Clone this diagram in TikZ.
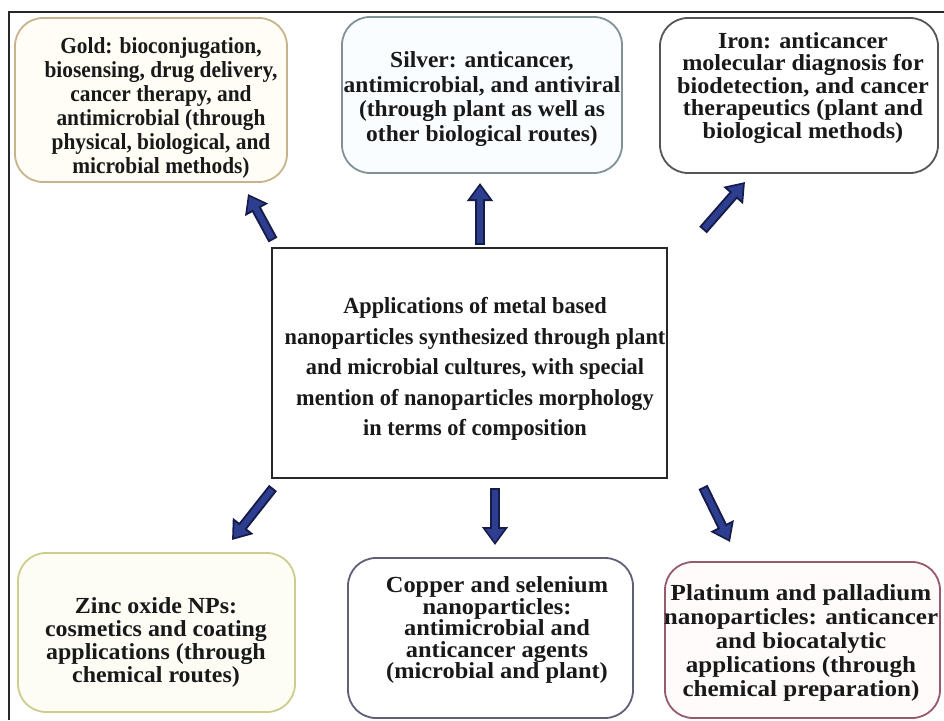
\documentclass[tikz,border=0pt]{standalone}
\usepackage{fontspec}
\setmainfont{Liberation Serif}
\newfontfamily\fgold[FakeStretch=0.93]{Liberation Serif}
\newfontfamily\fsilver[FakeStretch=1.02]{Liberation Serif}
\newfontfamily\firon[FakeStretch=1.05]{Liberation Serif}
\newfontfamily\fcent[FakeStretch=0.97]{Liberation Serif}
\newfontfamily\fzinc[FakeStretch=1.04]{Liberation Serif}
\newfontfamily\fcopper[FakeStretch=1.06]{Liberation Serif}
\newfontfamily\fplat[FakeStretch=1.09]{Liberation Serif}
\usetikzlibrary{arrows.meta}
\definecolor{navyc}{RGB}{45,62,145}
\definecolor{navyd}{RGB}{22,28,72}
\definecolor{goldc}{RGB}{200,180,140}
\definecolor{silverc}{RGB}{130,145,150}
\definecolor{ironc}{RGB}{85,85,85}
\definecolor{zincc}{RGB}{205,205,140}
\definecolor{copperc}{RGB}{95,95,120}
\definecolor{platc}{RGB}{150,90,110}
\definecolor{framec}{RGB}{40,40,40}
\tikzset{
  rbox/.style={draw, line width=1.8pt, rounded corners=28pt, inner sep=0pt},
  txt/.style={align=center, inner sep=0pt, text=black!90},
  arrowout/.style={line width=10pt, draw=navyd, -{Triangle[length=18pt,width=25pt]}},
  arrowin/.style={line width=6pt, draw=navyc, shorten >=3pt, shorten <=2pt, -{Triangle[length=13pt,width=18pt]}},
}
\begin{document}
\begin{tikzpicture}[x=1pt,y=-1pt]
\useasboundingbox (0,0) rectangle (944,720);
% outer frame (top and left edges visible)
\coordinate (fr1) at (944,12);
\coordinate (fr2) at (9,12);
\coordinate (fr3) at (9,720);
\draw[framec, line width=1.5pt] (fr1) -- (fr2) -- (fr3);

% boxes
\node[rbox, draw=goldc, fill={rgb,255:red,255;green,253;blue,245}, minimum width=272pt, minimum height=164pt] (gold) at (151,100) {};
\node[rbox, draw=silverc, fill={rgb,255:red,250;green,253;blue,255}, minimum width=280pt, minimum height=156pt] (silver) at (482,95) {};
\node[rbox, draw=ironc, fill=white, minimum width=278pt, minimum height=155pt] (iron) at (799,95.5) {};
\node[draw=framec, line width=2.4pt, fill=white, minimum width=395pt, minimum height=230pt, inner sep=0pt] (center) at (469.5,363) {};
\node[rbox, draw=zincc, fill={rgb,255:red,253;green,253;blue,246}, minimum width=277pt, minimum height=159pt] (zinc) at (156.5,632.5) {};
\node[rbox, draw=copperc, fill=white, minimum width=285pt, minimum height=160pt] (copper) at (490.5,638) {};
\node[rbox, draw=platc, fill={rgb,255:red,255;green,251;blue,251}, minimum width=275pt, minimum height=156pt] (plat) at (802.5,640) {};

% texts
\node[txt, font=\fgold\bfseries\fontsize{23}{24}\selectfont] (goldt) at (161,108)
 {Gold: bioconjugation,\\biosensing, drug delivery,\\cancer therapy, and\\antimicrobial (through\\physical, biological, and\\microbial methods)};
\node[txt, font=\fsilver\bfseries\fontsize{23}{24.5}\selectfont] (silvert) at (482,99)
 {Silver: anticancer,\\antimicrobial, and antiviral\\(through plant as well as\\other biological routes)};
\node[txt, font=\firon\bfseries\fontsize{23}{22.5}\selectfont] (iront) at (803,88)
 {Iron: anticancer\\molecular diagnosis for\\biodetection, and cancer\\therapeutics (plant and\\biological methods)};
\node[txt, font=\fcent\bfseries\fontsize{23}{30.5}\selectfont] (centert) at (475,369)
 {Applications of metal based\\nanoparticles synthesized through plant\\and microbial cultures, with special\\mention of nanoparticles morphology\\in terms of composition};
\node[txt, font=\fzinc\bfseries\fontsize{23}{23}\selectfont] (zinct) at (156,642)
 {Zinc oxide NPs:\\cosmetics and coating\\applications (through\\chemical routes)};
\node[txt, font=\fcopper\bfseries\fontsize{23}{21.5}\selectfont] (coppert) at (497,630)
 {Copper and selenium\\nanoparticles:\\antimicrobial and\\anticancer agents\\(microbial and plant)};
\node[txt, font=\fplat\bfseries\fontsize{23}{24}\selectfont] (platt) at (801,643)
 {Platinum and palladium\\nanoparticles: anticancer\\and biocatalytic\\applications (through\\chemical preparation)};

% arrow end points
\coordinate (a1s) at (273,240); \coordinate (a1e) at (248,194);
\coordinate (a2s) at (480,245); \coordinate (a2e) at (480,183);
\coordinate (a3s) at (703,230); \coordinate (a3e) at (745,182);
\coordinate (a4s) at (273,488); \coordinate (a4e) at (232,540);
\coordinate (a5s) at (495,488); \coordinate (a5e) at (495,545);
\coordinate (a6s) at (703,487); \coordinate (a6e) at (730,542);
\foreach \i in {1,...,6} {
  \draw[arrowout] (a\i s) -- (a\i e);
  \draw[arrowin] (a\i s) -- (a\i e);
}
\end{tikzpicture}
\end{document}
